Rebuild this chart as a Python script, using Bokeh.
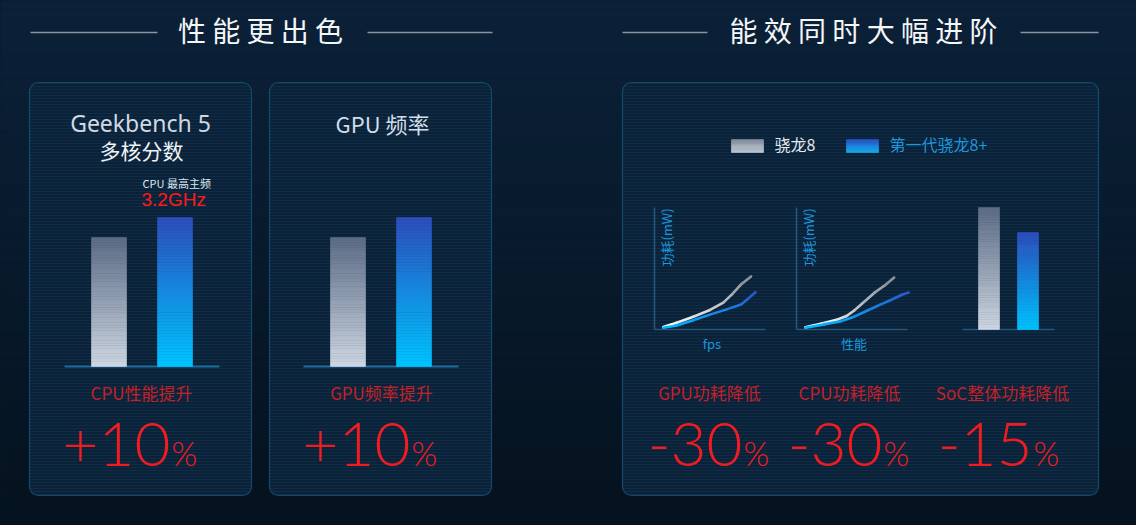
import numpy as np
from bokeh.plotting import figure
from bokeh.models import Range1d
from bokeh.core.properties import value
from bokeh.embed import file_html
from bokeh.resources import INLINE

# ---------------- data ----------------
chips = ["骁龙8", "第一代骁龙8+"]
geekbench_multi = [100, 115.5]      # relative bar heights
gpu_frequency = [100, 115.5]
soc_power = [100, 79.5]

gpu_fps_sd8 = [8, 20, 35, 50, 62, 70, 78, 87]
gpu_power_sd8 = [2, 5.5, 10.5, 16, 22, 29, 37, 43.5]
gpu_fps_sd8p = [8, 20, 35, 50, 65, 78, 84, 91]
gpu_power_sd8p = [1.5, 3.3, 7.5, 12.2, 16.5, 20.5, 25, 30.5]

cpu_perf_sd8 = [8, 22, 37, 45, 52, 60, 70, 80, 88]
cpu_power_sd8 = [1.8, 4.8, 8.2, 11, 15.6, 22, 30, 36.5, 42.6]
cpu_perf_sd8p = [8, 25, 40, 52, 64, 75, 85, 95, 101]
cpu_power_sd8p = [1.5, 4.2, 6.8, 10.5, 15.6, 20.2, 24.2, 28.5, 30.3]

section_titles = ["性 能 更 出 色", "能 效 同 时 大 幅 进 阶"]
metric_labels = ["CPU性能提升", "GPU频率提升", "GPU功耗降低", "CPU功耗降低", "SoC整体功耗降低"]
metric_values = ["+10", "+10", "-30", "-30", "-15"]

# ---------------- style ----------------
CJK = "Noto Sans CJK SC"
NUM = "Lato Light"
RED = "#f01c22"
RED_DIM = "#c4202a"
BLUE_TXT = "#1e95dc"
GRAY_TOP, GRAY_BOT = "#5d6d86", "#cdd6e2"
BLUE_TOP, BLUE_BOT = "#2c4fbd", "#00c3ff"
BG = "#081a2d"


def hex2rgb(h):
    h = h.lstrip("#")
    return tuple(int(h[i:i + 2], 16) for i in (0, 2, 4))


def mix(c0, c1, t):
    a, b = hex2rgb(c0), hex2rgb(c1)
    return "#%02x%02x%02x" % tuple(int(round(a[i] + (b[i] - a[i]) * t)) for i in range(3))


W, H = 1136, 525
p = figure(width=W, height=H, x_range=Range1d(0, W), y_range=Range1d(H, 0),
           output_backend="svg", toolbar_location=None, min_border=0,
           x_axis_location=None, y_axis_location=None)
p.grid.visible = False
p.outline_line_color = None
p.background_fill_color = BG
p.border_fill_color = BG

# background gradient
ys = np.linspace(0, H, 61)
bg_cols = [mix("#0b2138", "#05121f", t) for t in np.linspace(0, 1, 60)]
p.quad(left=0, right=W, top=ys[:-1], bottom=ys[1:], fill_color=bg_cols, line_color=bg_cols, line_width=1)

# panels
panels = [(29, 251), (269, 491), (622, 1098)]
for l, r in panels:
    p.quad(left=[l], right=[r], top=[82], bottom=[495], fill_color="#0a2137", fill_alpha=1.0,
           line_color="#134a6d", line_width=1.2, border_radius=9,
           hatch_pattern="horizontal_line", hatch_color="#0f2d46", hatch_scale=3, hatch_weight=1)


def txt(x, y, s, size, color, font=CJK, align="center", baseline="middle", angle=0.0, style="normal"):
    if baseline == "middle" and angle == 0.0:
        y = y - 0.1 * size
    p.text(x=[x], y=[y], text=[s], text_font=value(font), text_font_size=f"{size}px",
           text_color=color, text_align=align, text_baseline=baseline, angle=angle,
           text_font_style=style)


# section titles with side rules
for (cx, title, l0, l1, r0, r1) in [(260, section_titles[0], 30, 157, 367, 492),
                                    (863, section_titles[1], 622, 707, 1020, 1098)]:
    txt(cx, 32, title, 28, "#f4f6f8")
    p.segment(x0=[l0, r0], y0=[32, 32], x1=[l1, r1], y1=[32, 32], line_color="#8a949f", line_width=1.6)


def grad_bar(xc, w, ybase, ytop, cb, ct, n=50):
    yy = np.linspace(ybase, ytop, n + 1)
    cols = [mix(cb, ct, t) for t in np.linspace(0, 1, n)]
    p.quad(left=xc - w / 2, right=xc + w / 2, bottom=yy[:-1], top=yy[1:],
           fill_color=cols, line_color=cols, line_width=0.6)


def bar_chart(values, x0, x1, base, px_per100, gap, w, lw, base_color):
    xc = (x0 + x1) / 2
    p.segment(x0=[x0], y0=[base], x1=[x1], y1=[base], line_color=base_color, line_width=lw)
    cols = [(GRAY_BOT, GRAY_TOP), (BLUE_BOT, BLUE_TOP)]
    for i, v in enumerate(values):
        cx = xc + (i - 0.5) * gap
        grad_bar(cx, w, base, base - v / 100 * px_per100, *cols[i])


# panel 1
txt(140, 125, "Geekbench 5", 23, "#d0d9e3", font="Noto Sans")
txt(141, 152, "多核分数", 21, "#eef2f6")
txt(142, 184, "CPU 最高主频", 11, "#dfe6ee", align="left")
txt(141, 201, "3.2GHz", 19, "#ff1a1a", font="Liberation Sans", align="left")
bar_chart(geekbench_multi, 64, 219, 366, 129, 66, 35, 2, "#1b6c9c")

# panel 2
txt(382, 125, "GPU 频率", 22, "#d3dce6")
bar_chart(gpu_frequency, 303, 458, 366, 129, 66, 35, 2, "#1b6c9c")

# panel 3 legend
grad_bar(747, 32, 152, 139, "#c6ced9", "#8993a3", n=12)
txt(774, 145.5, chips[0], 16, "#e3e8ee", align="left")
grad_bar(862, 32, 152, 139, "#12b4f4", "#2a58c8", n=12)
txt(889, 145.5, chips[1], 16, BLUE_TXT, align="left")


# line charts
def line_chart(ax0, xlabel, xs_a, ys_a, xs_b, ys_b):
    ay0, ay1, w = 329, 207, 111
    p.segment(x0=[ax0, ax0], y0=[ay0, ay0], x1=[ax0, ax0 + w], y1=[ay1, ay0],
              line_color="#245a7e", line_width=1.5)

    def sx(v):
        return ax0 + np.asarray(v, float) / 100 * w

    def sy(v):
        return ay0 - np.asarray(v, float) / 100 * (ay0 - ay1)

    for xs, ysv, c0, c1 in [(xs_a, ys_a, "#ffffff", "#8b939c"), (xs_b, ys_b, "#04b6ff", "#2a5acb")]:
        px, py = sx(xs), sy(ysv)
        n = len(px) - 1
        cols = [mix(c0, c1, t) for t in np.linspace(0, 1, n)]
        p.segment(x0=px[:-1], y0=py[:-1], x1=px[1:], y1=py[1:], line_color=cols,
                  line_width=2.6, line_cap="round")
    txt(ax0 + 12, 237, "功耗(mW)", 13, BLUE_TXT, angle=np.pi / 2)
    txt(ax0 + w / 2 + 2, 344, xlabel, 13, BLUE_TXT)


line_chart(654, "fps", gpu_fps_sd8, gpu_power_sd8, gpu_fps_sd8p, gpu_power_sd8p)
line_chart(796, "性能", cpu_perf_sd8, cpu_power_sd8, cpu_perf_sd8p, cpu_power_sd8p)

# SoC bars
bar_chart(soc_power, 962, 1054, 329, 122, 39, 21, 1.5, "#1d5a80")

# metric labels and values
label_x = [141, 381, 709, 849, 1002]
num_right = [170, 410, 742, 882, 1032]
for lx, nr, lab, val in zip(label_x, num_right, metric_labels, metric_values):
    txt(lx, 394, lab, 17, RED_DIM)
    txt(nr, 444, val, 62, RED, font=NUM, align="right", baseline="alphabetic")
    txt(nr + 1, 452, "%", 33, RED, font=NUM, align="left", baseline="alphabetic")

html = file_html(p, INLINE)
html = html.replace("</head>", "<style>html,body{background:#081a2d;}</style></head>", 1)
open("out.html", "w").write(html)
